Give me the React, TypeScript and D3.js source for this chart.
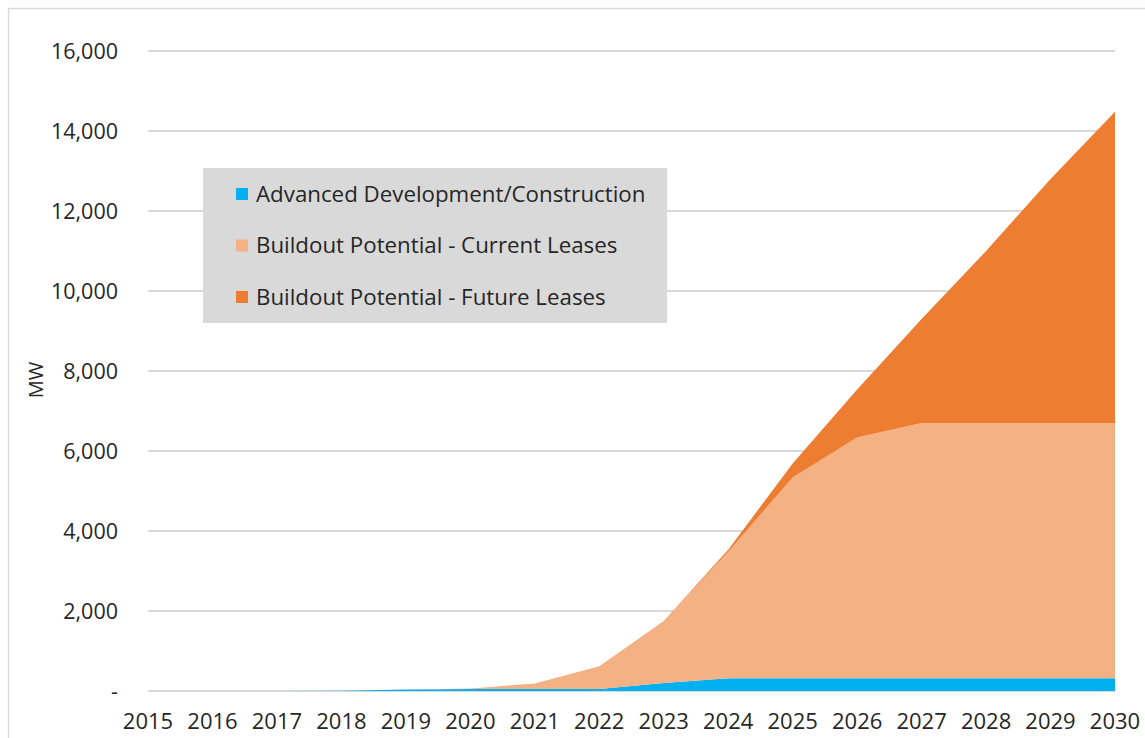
import { useEffect, useRef } from 'react';
import * as d3 from 'd3';

const years = ['2015', '2016', '2017', '2018', '2019', '2020', '2021', '2022', '2023', '2024', '2025', '2026', '2027', '2028', '2029', '2030'];
const advanced = [0, 0, 0, 5, 40, 50, 50, 50, 200, 320, 320, 320, 320, 320, 320, 320];
const currentLeases = [0, 0, 0, 0, 0, 10, 140, 570, 1550, 3160, 5020, 6020, 6380, 6380, 6380, 6380];
const futureLeases = [0, 0, 0, 0, 0, 0, 0, 0, 0, 50, 350, 1200, 2600, 4300, 6100, 7780];
const seriesNames = ['Advanced Development/Construction', 'Buildout Potential - Current Leases', 'Buildout Potential - Future Leases'];
const seriesColors = ['#00b0f0', '#f4b183', '#ed7d31'];
const yTicks = [0, 2000, 4000, 6000, 8000, 10000, 12000, 14000, 16000];

const FONT = '"Open Sans", Lato, sans-serif';

export default function App() {
  const svgRef = useRef<SVGSVGElement>(null);

  useEffect(() => {
    if (!svgRef.current) return;
    const svg = d3.select(svgRef.current);
    svg.selectAll('*').remove();

    const width = 1145;
    const height = 738;

    // chart frame
    svg.append('rect')
      .attr('x', 8.5).attr('y', 8.5)
      .attr('width', width + 20).attr('height', height + 20)
      .attr('fill', '#fff').attr('stroke', '#d9d9d9').attr('stroke-width', 1.5);

    const x = d3.scalePoint().domain(years).range([148, 1115]);
    const y = d3.scaleLinear().domain([0, 16000]).range([691, 51]);

    // gridlines
    svg.append('g').selectAll('line')
      .data(yTicks)
      .enter().append('line')
      .attr('x1', 148).attr('x2', 1115)
      .attr('y1', d => y(d)).attr('y2', d => y(d))
      .attr('stroke', '#d9d9d9').attr('stroke-width', 2);

    const table = years.map((yr, i) => ({
      year: yr,
      a: advanced[i],
      c: currentLeases[i],
      f: futureLeases[i],
    }));
    const stacked = d3.stack<any>().keys(['a', 'c', 'f'])(table);

    const area = d3.area<any>()
      .x(d => x(d.data.year) as number)
      .y0(d => y(d[0]))
      .y1(d => y(d[1]));

    svg.append('g').selectAll('path')
      .data(stacked)
      .enter().append('path')
      .attr('d', d => area(d) as string)
      .attr('fill', (_, i) => seriesColors[i]);

    // y tick labels
    svg.append('g').selectAll('text')
      .data(yTicks)
      .enter().append('text')
      .attr('x', 118).attr('y', d => y(d))
      .attr('dy', '0.35em')
      .attr('text-anchor', 'end')
      .attr('font-family', FONT).attr('font-size', 21.5).attr('fill', '#262626')
      .text(d => (d === 0 ? '-' : d3.format(',')(d)));

    // x tick labels
    svg.append('g').selectAll('text')
      .data(years)
      .enter().append('text')
      .attr('x', d => x(d) as number).attr('y', 729)
      .attr('text-anchor', 'middle')
      .attr('font-family', FONT).attr('font-size', 22).attr('fill', '#262626')
      .text(d => d);

    // axis title
    svg.append('text')
      .attr('transform', 'translate(43,380) rotate(-90)')
      .attr('text-anchor', 'middle')
      .attr('font-family', FONT).attr('font-size', 20).attr('fill', '#262626')
      .text('MW');

    // legend
    const lg = svg.append('g');
    lg.append('rect')
      .attr('x', 203).attr('y', 168).attr('width', 464).attr('height', 155)
      .attr('fill', '#d9d9d9');
    const items = lg.selectAll('g.item')
      .data(seriesNames)
      .enter().append('g')
      .attr('class', 'item')
      .attr('transform', (_, i) => `translate(236,${194 + i * 51.5})`);
    items.append('rect')
      .attr('x', 0).attr('y', -6).attr('width', 12).attr('height', 12)
      .attr('fill', (_, i) => seriesColors[i]);
    items.append('text')
      .attr('x', 20).attr('y', 0).attr('dy', '0.35em')
      .attr('font-family', FONT).attr('font-size', 22.3).attr('fill', '#262626')
      .text(d => d);
  }, []);

  return (
    <svg
      ref={svgRef}
      width={1145}
      height={738}
      style={{ position: 'absolute', left: 0, top: 0, display: 'block' }}
    />
  );
}
